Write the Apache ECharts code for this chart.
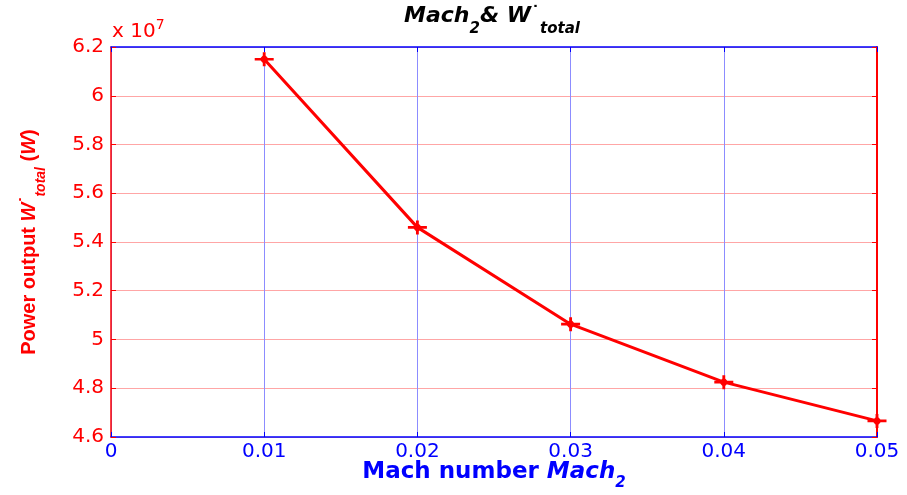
<!DOCTYPE html>
<html>
<head>
<meta charset="utf-8">
<title>Mach2 & W total</title>
<script src="https://cdn.jsdelivr.net/npm/echarts@6/dist/echarts.min.js"></script>
<style>
  html, body { margin: 0; padding: 0; background: #ffffff; }
  #chart { width: 907px; height: 495px; }
</style>
</head>
<body>
<div id="chart"></div>
<script>
// Mach number at the outlet and the total power output (in units of 1e7 W)
const machNumber  = [0.01, 0.02, 0.03, 0.04, 0.05];
const powerOutput = [6.15, 5.46, 5.063, 4.825, 4.666];

const xTickLabels = ['0', '0.01', '0.02', '0.03', '0.04', '0.05'];
const yTickLabels = ['4.6', '4.8', '5', '5.2', '5.4', '5.6', '5.8', '6', '6.2'];

const X_MIN = 0, X_MAX = 0.05, X_STEP = 0.01;
const Y_MIN = 4.6, Y_MAX = 6.2, Y_STEP = 0.2;

const RED = '#ff0000';
const BLUE = '#0000ff';
const PINK_GRID = '#ffa6a6';
const BLUE_GRID = '#8c8cff';
const FONT = 'DejaVu Sans';
const FONT_NARROW = 'Liberation Sans';

// asterisk-like marker
const asterisk = 'path://M0,8.5L20,8.5L20,11.5L0,11.5Z M8.5,2L11.5,2L11.5,18L8.5,18Z M10,4L15,10L10,16L5,10Z';

const points = machNumber.map((m, i) => [m, powerOutput[i]]);

const chart = echarts.init(document.getElementById('chart'), null, { renderer: 'canvas' });

const xLabelFmt = v => xTickLabels[Math.round((v - X_MIN) / X_STEP)] ?? '';
const yLabelFmt = v => yTickLabels[Math.round((v - Y_MIN) / Y_STEP)] ?? '';

chart.setOption({
  animation: false,
  backgroundColor: '#ffffff',
  grid: { left: 111, right: 30, top: 47, bottom: 58, containLabel: false, outerBoundsMode: 'none' },
  graphic: [
    {
      type: 'text',
      x: 492, y: 5,
      style: {
        text: '{m|Mach}{s|2}{m|& W}{d|˙}{s|total}',
        textAlign: 'center',
        fill: '#000000',
        rich: {
          m: { fontFamily: FONT, fontWeight: 'bold', fontStyle: 'italic', fontSize: 22, lineHeight: 28, verticalAlign: 'top', fill: '#000' },
          s: { fontFamily: FONT, fontWeight: 'bold', fontStyle: 'italic', fontSize: 15, lineHeight: 15, padding: [17, 0, 0, 0], verticalAlign: 'top', fill: '#000' },
          d: { fontFamily: FONT, fontWeight: 'bold', fontSize: 18, lineHeight: 18, padding: [0, 0, 0, 0], verticalAlign: 'top', fill: '#000' }
        }
      }
    },
    {
      type: 'text',
      x: 112, y: 18,
      style: {
        text: '{a|x 10}{b|7}',
        fill: RED,
        rich: {
          a: { fontFamily: FONT, fontSize: 20, lineHeight: 26, verticalAlign: 'top', padding: [4, 0, 0, 0], fill: RED },
          b: { fontFamily: FONT, fontSize: 14, lineHeight: 14, verticalAlign: 'top', fill: RED }
        }
      }
    }
  ],
  xAxis: [
    {
      type: 'value',
      position: 'bottom',
      min: X_MIN, max: X_MAX, interval: X_STEP,
      axisLine: { show: true, onZero: false, lineStyle: { color: BLUE, width: 1.5 } },
      axisTick: { show: true, inside: true, length: 5, lineStyle: { color: BLUE, width: 1 } },
      axisLabel: { color: BLUE, fontFamily: FONT, fontSize: 20, margin: 5, formatter: xLabelFmt },
      splitLine: { show: true, lineStyle: { color: BLUE_GRID, width: 1 } },
      name: '{b|Mach number }{bi|Mach}{s|2}',
      nameLocation: 'middle',
      nameGap: 24,
      nameMoveOverlap: false,
      nameTextStyle: {
        color: BLUE,
        verticalAlign: 'top',
        rich: {
          b:  { fontFamily: FONT, fontWeight: 'bold', fontSize: 23, lineHeight: 26, verticalAlign: 'top', color: BLUE },
          bi: { fontFamily: FONT, fontWeight: 'bold', fontStyle: 'italic', fontSize: 23, lineHeight: 26, verticalAlign: 'top', color: BLUE },
          s:  { fontFamily: FONT, fontWeight: 'bold', fontStyle: 'italic', fontSize: 15, lineHeight: 15, padding: [15, 0, 0, 0], verticalAlign: 'top', color: BLUE }
        }
      }
    },
    {
      type: 'value',
      position: 'top',
      min: X_MIN, max: X_MAX, interval: X_STEP,
      axisLine: { show: true, onZero: false, lineStyle: { color: BLUE, width: 1.5 } },
      axisTick: { show: true, inside: true, length: 5, lineStyle: { color: BLUE, width: 1 } },
      axisLabel: { show: false },
      splitLine: { show: false }
    }
  ],
  yAxis: [
    {
      type: 'value',
      position: 'left',
      min: Y_MIN, max: Y_MAX, interval: Y_STEP,
      axisLine: { show: true, onZero: false, lineStyle: { color: RED, width: 1.5 } },
      axisTick: { show: true, inside: true, length: 5, lineStyle: { color: RED, width: 1 } },
      axisLabel: { color: RED, fontFamily: FONT, fontSize: 20, margin: 7, formatter: yLabelFmt },
      splitLine: { show: true, lineStyle: { color: PINK_GRID, width: 1, type: 'solid' } },
      name: '{n|Power output }{i|W}{d|˙}{s|total}{n| (}{i|W}{n|)}',
      nameLocation: 'middle',
      nameRotate: 90,
      nameGap: 66,
      nameMoveOverlap: false,
      nameTextStyle: {
        color: RED,
        rich: {
          n: { fontFamily: FONT_NARROW, fontWeight: 'bold', fontSize: 20, lineHeight: 26, verticalAlign: 'top', color: RED },
          i: { fontFamily: FONT_NARROW, fontWeight: 'bold', fontStyle: 'italic', fontSize: 20, lineHeight: 26, verticalAlign: 'top', color: RED },
          d: { fontFamily: FONT_NARROW, fontWeight: 'bold', fontSize: 18, lineHeight: 16, verticalAlign: 'top', color: RED },
          s: { fontFamily: FONT_NARROW, fontWeight: 'bold', fontStyle: 'italic', fontSize: 14, lineHeight: 14, padding: [15, 0, 0, 0], verticalAlign: 'top', color: RED }
        }
      }
    },
    {
      type: 'value',
      position: 'right',
      min: Y_MIN, max: Y_MAX, interval: Y_STEP,
      axisLine: { show: true, onZero: false, lineStyle: { color: RED, width: 2 } },
      axisTick: { show: true, inside: true, length: 5, lineStyle: { color: RED, width: 1 } },
      axisLabel: { show: false },
      splitLine: { show: true, lineStyle: { color: PINK_GRID, width: 1, type: 'solid' } }
    }
  ],
  series: [
    {
      type: 'line',
      xAxisIndex: 0,
      yAxisIndex: 0,
      data: points,
      z: 5,
      lineStyle: { color: RED, width: 3 },
      itemStyle: { color: RED },
      symbol: asterisk,
      symbolSize: [19, 14],
      symbolKeepAspect: false,
      showSymbol: true,
      clip: false
    }
  ]
});
</script>
</body>
</html>
